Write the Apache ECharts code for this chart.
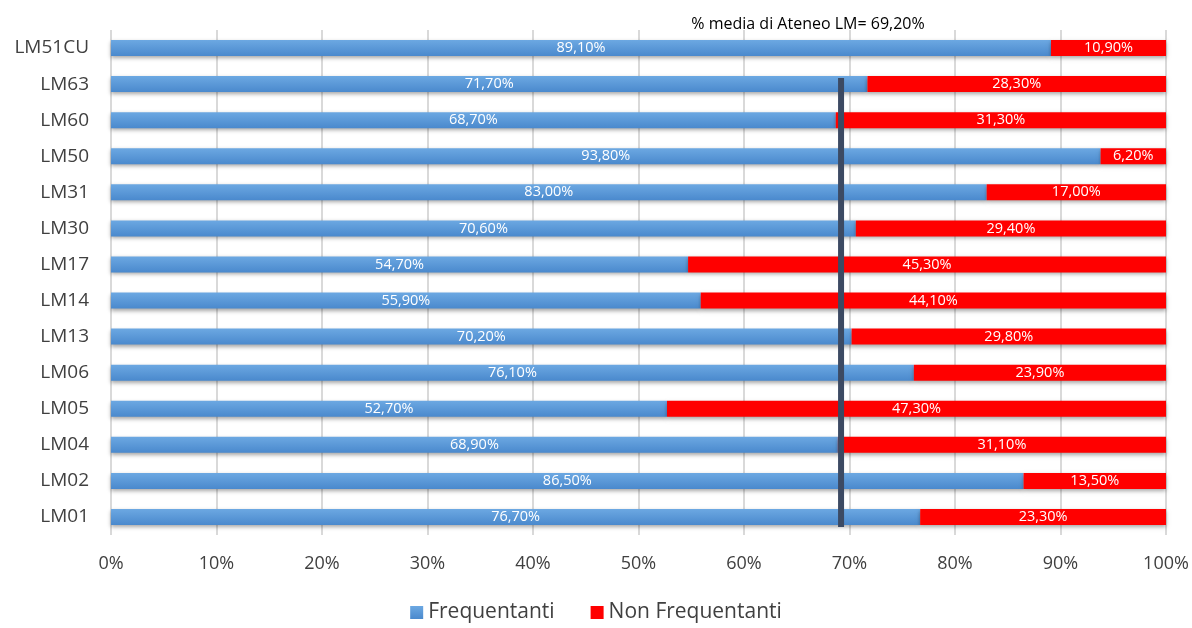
<!DOCTYPE html>
<html>
<head>
<meta charset="utf-8">
<script src="https://cdn.jsdelivr.net/npm/echarts@6/dist/echarts.min.js"></script>
<style>
  html, body { margin: 0; padding: 0; background: #fff; }
  #main { width: 1192px; height: 628px; }
</style>
</head>
<body>
<div id="main"></div>
<script>
// categories bottom to top
var corsi = ['LM01', 'LM02', 'LM04', 'LM05', 'LM06', 'LM13', 'LM14', 'LM17', 'LM30', 'LM31', 'LM50', 'LM60', 'LM63', 'LM51CU'];
var frequentanti = [76.7, 86.5, 68.9, 52.7, 76.1, 70.2, 55.9, 54.7, 70.6, 83.0, 93.8, 68.7, 71.7, 89.1];
var nonFrequentanti = [23.3, 13.5, 31.1, 47.3, 23.9, 29.8, 44.1, 45.3, 29.4, 17.0, 6.2, 31.3, 28.3, 10.9];
var mediaAteneo = 69.2;
// extent of the average line, in category-band units (0 = bottom edge, 14 = top edge)
var mediaDa = 0.22;
var mediaA = 12.67;

var chart = echarts.init(document.getElementById('main'));

function pct(v) {
  return v.toFixed(2).replace('.', ',') + '%';
}

var font = '"Open Sans", Lato, sans-serif';

var option = {
  animation: false,
  textStyle: { fontFamily: font },
  title: {
    text: '% media di Ateneo LM= ' + pct(mediaAteneo),
    left: 803,
    textAlign: 'center',
    top: 11,
    textStyle: { fontSize: 16, fontWeight: 'normal', color: '#000', fontFamily: font }
  },
  legend: {
    bottom: 0,
    left: 'center',
    itemWidth: 13,
    itemHeight: 13,
    itemGap: 36,
    icon: 'rect',
    textStyle: { fontSize: 21, color: '#404040', fontFamily: font },
    data: ['Frequentanti', 'Non Frequentanti']
  },
  grid: {
    left: 111,
    right: 26,
    top: 30,
    bottom: 93
  },
  xAxis: {
    type: 'value',
    min: 0,
    max: 100,
    interval: 10,
    axisLine: { show: false },
    axisTick: { show: false },
    axisLabel: {
      formatter: '{value}%',
      fontSize: 18,
      color: '#404040',
      margin: 20,
      fontFamily: font
    },
    splitLine: { lineStyle: { color: '#d9d9d9', width: 2 } }
  },
  yAxis: [
    {
      type: 'category',
      data: corsi,
      axisLine: { show: false },
      axisTick: { show: false },
      axisLabel: { fontSize: 19, color: '#404040', margin: 22, fontFamily: font }
    },
    {
      type: 'value',
      min: 0,
      max: corsi.length,
      show: false
    }
  ],
  series: [
    {
      name: 'Frequentanti',
      type: 'bar',
      stack: 'tot',
      barWidth: 16,
      data: frequentanti,
      itemStyle: {
        color: new echarts.graphic.LinearGradient(0, 0, 0, 1, [
          { offset: 0, color: '#6ca8e2' },
          { offset: 1, color: '#4a89cd' }
        ]),
        shadowColor: 'rgba(0,0,0,0.35)',
        shadowBlur: 4,
        shadowOffsetY: 2
      },
      label: {
        show: true,
        position: 'inside',
        color: '#fff',
        fontSize: 14.5,
        fontFamily: font,
        formatter: function (p) { return pct(p.value); }
      }
    },
    {
      name: 'Non Frequentanti',
      type: 'bar',
      stack: 'tot',
      barWidth: 16,
      data: nonFrequentanti,
      itemStyle: {
        color: '#ff0000',
        shadowColor: 'rgba(0,0,0,0.35)',
        shadowBlur: 4,
        shadowOffsetY: 2
      },
      label: {
        show: true,
        position: 'inside',
        color: '#fff',
        fontSize: 14.5,
        fontFamily: font,
        formatter: function (p) { return pct(p.value); }
      }
    },
    {
      name: 'media',
      type: 'line',
      yAxisIndex: 1,
      silent: true,
      symbol: 'none',
      z: 5,
      lineStyle: { color: '#3c4a63', width: 6, cap: 'butt' },
      data: [[mediaAteneo, mediaDa], [mediaAteneo, mediaA]]
    }
  ]
};

chart.setOption(option);
</script>
</body>
</html>
